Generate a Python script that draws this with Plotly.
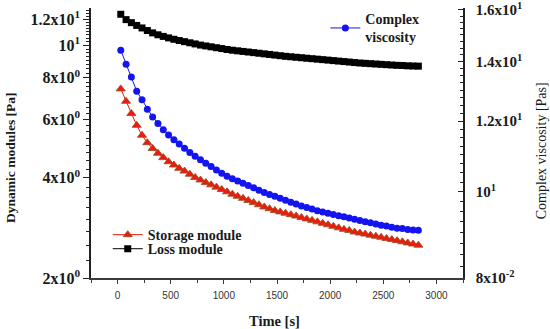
import numpy as np
import plotly.graph_objects as go

time_s = [30, 80, 130, 180, 230, 280, 330, 380, 430, 480, 530, 580, 630, 680, 730, 780,
          830, 880, 930, 980, 1030, 1080, 1130, 1180, 1230, 1280, 1330, 1380, 1430, 1480,
          1530, 1580, 1630, 1680, 1730, 1780, 1830, 1880, 1930, 1980, 2030, 2080, 2130,
          2180, 2230, 2280, 2330, 2380, 2430, 2480, 2530, 2580, 2630, 2680, 2730, 2780, 2830]

storage_module = [7.40, 6.79, 6.24, 5.75, 5.37, 5.10, 4.90, 4.74, 4.60, 4.47, 4.37, 4.27,
                  4.19, 4.10, 4.01, 3.94, 3.87, 3.81, 3.75, 3.69, 3.63, 3.57, 3.52, 3.47,
                  3.42, 3.37, 3.32, 3.27, 3.23, 3.19, 3.16, 3.13, 3.10, 3.07, 3.04, 3.01,
                  2.98, 2.95, 2.92, 2.89, 2.86, 2.83, 2.80, 2.78, 2.75, 2.73, 2.71, 2.69,
                  2.67, 2.65, 2.63, 2.61, 2.59, 2.57, 2.55, 2.53, 2.51]

loss_module = [12.40, 11.95, 11.70, 11.48, 11.28, 11.08, 10.90, 10.76, 10.64, 10.53, 10.43,
               10.34, 10.26, 10.18, 10.10, 10.02, 9.96, 9.90, 9.84, 9.78, 9.72, 9.67, 9.63,
               9.59, 9.55, 9.51, 9.47, 9.43, 9.39, 9.35, 9.31, 9.27, 9.24, 9.21, 9.18, 9.15,
               9.12, 9.09, 9.06, 9.03, 9.00, 8.97, 8.94, 8.91, 8.88, 8.85, 8.83, 8.81, 8.79,
               8.77, 8.75, 8.73, 8.71, 8.70, 8.68, 8.67, 8.66]

complex_viscosity = [14.42, 13.90, 13.45, 12.97, 12.68, 12.38, 12.13, 11.93, 11.74, 11.58,
                     11.44, 11.31, 11.19, 11.07, 10.96, 10.86, 10.76, 10.67, 10.58, 10.49,
                     10.41, 10.34, 10.28, 10.22, 10.16, 10.10, 10.04, 9.98, 9.93, 9.88, 9.83,
                     9.78, 9.73, 9.69, 9.64, 9.60, 9.56, 9.52, 9.49, 9.46, 9.43, 9.40, 9.37,
                     9.34, 9.31, 9.28, 9.25, 9.23, 9.20, 9.17, 9.15, 9.12, 9.10, 9.09, 9.07,
                     9.06, 9.05]

x_ticks = [0, 500, 1000, 1500, 2000, 2500, 3000]
left_tickvals = [2, 4, 6, 8, 10, 12]
left_ticktext = ["2x10<sup>0</sup>", "4x10<sup>0</sup>", "6x10<sup>0</sup>",
                 "8x10<sup>0</sup>", "10<sup>1</sup>", "1.2x10<sup>1</sup>"]
right_tickvals = [8, 10, 12, 14, 16]
right_ticktext = ["8x10<sup>-2</sup>", "10<sup>1</sup>", "1.2x10<sup>1</sup>",
                  "1.4x10<sup>1</sup>", "1.6x10<sup>1</sup>"]

SERIF = "Liberation Serif"
SANS = "Liberation Sans"
TXT = "#1a1a1a"

fig = go.Figure()

fig.add_trace(go.Scatter(
    x=time_s, y=loss_module, name="Loss module", mode="lines+markers",
    line=dict(color="black", width=1),
    marker=dict(symbol="square", size=7, color="black"),
    legend="legend3", yaxis="y"))

fig.add_trace(go.Scatter(
    x=time_s, y=complex_viscosity, name="Complex<br>viscosity", mode="lines+markers",
    line=dict(color="#1414f0", width=1),
    marker=dict(symbol="circle", size=7, color="#1414f0"),
    legend="legend2", yaxis="y2"))

fig.add_trace(go.Scatter(
    x=time_s, y=storage_module, name="Storage module", mode="lines+markers",
    line=dict(color="#e8150f", width=1),
    marker=dict(symbol="triangle-up", size=8, color="#ee1a10",
                line=dict(color="#9a4a1c", width=0.8)),
    legend="legend", yaxis="y"))

left_minor = list(np.arange(2.0, 13.0, 0.25))
right_minor = list(np.arange(8.0, 16.25, 0.25))

legend_common = dict(
    xanchor="left", yanchor="middle", bgcolor="rgba(0,0,0,0)", borderwidth=0,
    font=dict(family=SERIF, size=14, color=TXT, weight="bold"), itemwidth=30,
)

fig.update_layout(
    width=550, height=329,
    margin=dict(l=91, r=87, t=8, b=51, autoexpand=False),
    paper_bgcolor="white", plot_bgcolor="white",
    showlegend=True,
    xaxis=dict(
        range=[-250, 3250], tickmode="array", tickvals=x_ticks, automargin=False,
        showline=True, linecolor="#3a3a3a", linewidth=2, showgrid=False, zeroline=False,
        ticks="outside", ticklen=4, tickwidth=1, tickcolor="#3a3a3a",
        tickfont=dict(family=SANS, size=10, color="#333333"),
        ticklabelstandoff=3,
        minor=dict(tickmode="linear", tick0=-250, dtick=250, ticks="outside",
                   ticklen=3, tickcolor="#3a3a3a"),
    ),
    yaxis=dict(
        type="log", range=[np.log10(2), np.log10(12.95)], automargin=False,
        tickmode="array", tickvals=left_tickvals, ticktext=left_ticktext,
        ticklabeloverflow="allow",
        showline=True, linecolor="#222222", linewidth=1.5, showgrid=False, zeroline=False,
        ticks="outside", ticklen=6, tickwidth=1.2, tickcolor="#222222",
        tickfont=dict(family=SERIF, size=16, color=TXT, weight="bold"),
        minor=dict(tickmode="array", tickvals=left_minor, ticks="outside",
                   ticklen=3, tickcolor="#222222"),
    ),
    yaxis2=dict(
        type="log", range=[np.log10(8), np.log10(16.08)], overlaying="y", side="right",
        anchor="x", automargin=False, ticklabeloverflow="allow",
        tickmode="array", tickvals=right_tickvals, ticktext=right_ticktext,
        showline=True, linecolor="#222222", linewidth=1.5, showgrid=False, zeroline=False,
        ticks="inside", ticklen=5, tickwidth=1.2, tickcolor="#222222",
        ticklabelstandoff=8,
        tickfont=dict(family=SERIF, size=15, color=TXT, weight="bold"),
        minor=dict(tickmode="array", tickvals=right_minor, ticks="inside",
                   ticklen=3, tickcolor="#222222"),
    ),
    legend=dict(x=0.045, y=0.159, **legend_common),
    legend3=dict(x=0.045, y=0.107, **legend_common),
    legend2=dict(x=0.63, y=0.925, valign="middle", **legend_common),
    annotations=[
        dict(text="<b>Time [s]</b>", xref="paper", yref="paper", x=0.492, y=-0.159,
             xanchor="center", yanchor="middle", showarrow=False,
             font=dict(family=SERIF, size=14.5, color=TXT)),
        dict(text="<b>Dynamic modules [Pa]</b>", xref="paper", yref="paper",
             x=-0.218, y=0.448, xanchor="center", yanchor="middle", textangle=-90,
             showarrow=False, font=dict(family=SERIF, size=13.5, color=TXT)),
        dict(text="Complex viscosity [Pas]", xref="paper", yref="paper",
             x=1.21, y=0.47, xanchor="center", yanchor="middle", textangle=-90,
             showarrow=False, font=dict(family=SERIF, size=14, color=TXT)),
    ],
)

fig.write_html("out.html", config={"displayModeBar": False},
               post_script="document.body.style.margin='0';")
